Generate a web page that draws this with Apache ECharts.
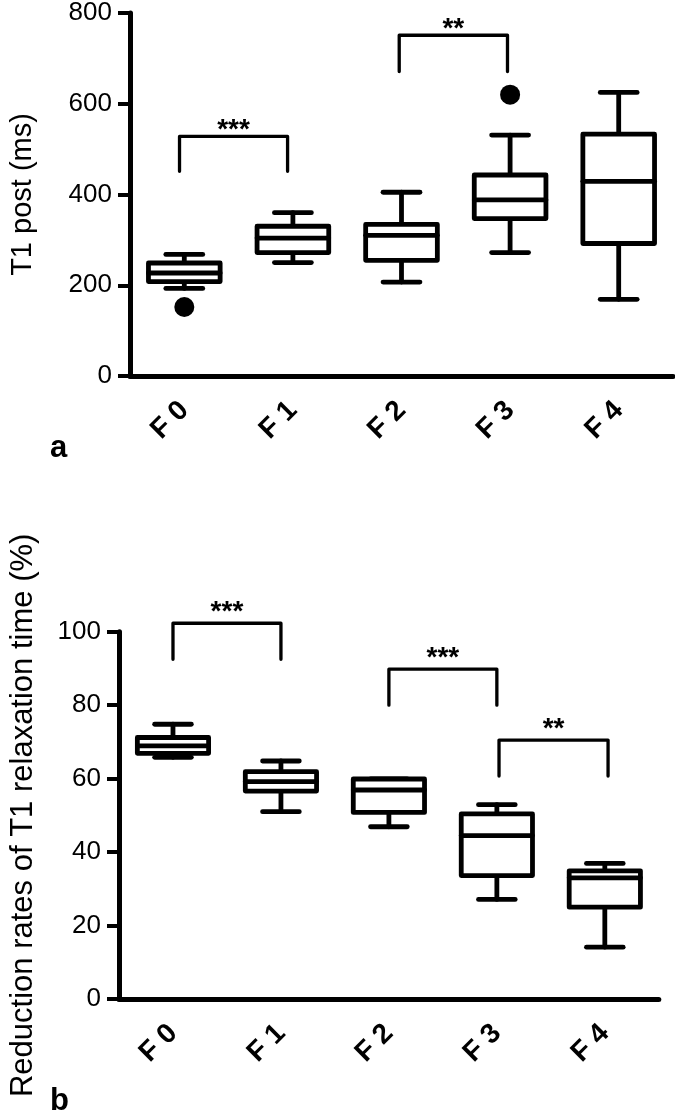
<!DOCTYPE html>
<html>
<head>
<meta charset="utf-8">
<script src="https://cdn.jsdelivr.net/npm/echarts@6/dist/echarts.min.js"></script>
<style>
html,body{margin:0;padding:0;background:#fff;}
#chart{width:675px;height:1111px;}
</style>
</head>
<body>
<div id="chart"></div>
<script>
// ---- data ----
const categories = ['F 0', 'F 1', 'F 2', 'F 3', 'F 4'];
// [min, Q1, median, Q3, max]
const t1PostBox = [
  [193, 208, 227, 249, 268],
  [250, 272, 304, 330, 360],
  [207, 255, 310, 334, 405],
  [272, 347, 388, 443, 531],
  [169, 292, 429, 533, 625]
];
const t1PostOutliers = [[0, 152], [3, 620]];
const reductionBox = [
  [65.8, 66.9, 68.9, 71.2, 74.8],
  [51.0, 56.6, 59.2, 61.9, 64.8],
  [46.9, 50.8, 56.9, 59.9, 59.9],
  [27.1, 33.6, 44.5, 50.4, 52.9],
  [14.1, 25.0, 33.0, 34.9, 36.9]
];
const reductionOutliers = [];
// [fromCategory, toCategory, bracketTop, legBottom, label]
const t1PostBrackets = [
  [-0.044, 0.951, 528, 451, '***'],
  [1.979, 2.976, 751, 671, '**']
];
const reductionBrackets = [
  [0, 1, 102.3, 92.5, '***'],
  [2, 3, 89.8, 80.0, '***'],
  [3.02, 4.03, 70.5, 60.7, '**']
];
const t1PostAxis = {min: 0, max: 800, interval: 200, name: 'T1 post (ms)'};
const reductionAxis = {min: 0, max: 100, interval: 20, name: 'Reduction rates of T1 relaxation time (%)'};

// ---- rendering ----
const FONT = "'Liberation Sans', Arial, Helvetica, sans-serif";
const chart = echarts.init(document.getElementById('chart'), null, {renderer: 'canvas'});

function boxData(box) { return box.map((b, i) => [i].concat(b)); }

function renderBox(params, api) {
  const i = api.value(0);
  const lo = api.coord([i, api.value(1)]);
  const q1 = api.coord([i, api.value(2)]);
  const md = api.coord([i, api.value(3)]);
  const q3 = api.coord([i, api.value(4)]);
  const hi = api.coord([i, api.value(5)]);
  const band = api.size([1, 0])[0];
  const bw = band * 0.66, cw = band * 0.34;
  const x = lo[0];
  const st = {stroke: '#000', lineWidth: 4.8, fill: 'none', lineCap: 'round'};
  return {
    type: 'group',
    children: [
      {type: 'line', shape: {x1: x, y1: q3[1], x2: x, y2: hi[1]}, style: st},
      {type: 'line', shape: {x1: x - cw / 2, y1: hi[1], x2: x + cw / 2, y2: hi[1]}, style: st},
      {type: 'line', shape: {x1: x, y1: q1[1], x2: x, y2: lo[1]}, style: st},
      {type: 'line', shape: {x1: x - cw / 2, y1: lo[1], x2: x + cw / 2, y2: lo[1]}, style: st},
      {type: 'rect', shape: {x: x - bw / 2, y: q3[1], width: bw, height: q1[1] - q3[1]},
        style: {stroke: '#000', lineWidth: 4.8, fill: '#fff', lineJoin: 'round'}},
      {type: 'line', shape: {x1: x - bw / 2, y1: md[1], x2: x + bw / 2, y2: md[1]}, style: st}
    ]
  };
}

function makeBracketRenderer(brackets, textLift) {
  return function (params, api) {
    const b = brackets[params.dataIndex];
    const p1 = api.coord([b[0], b[3]]);
    const p2 = api.coord([b[0], b[2]]);
    const p3 = api.coord([b[1], b[2]]);
    const p4 = api.coord([b[1], b[3]]);
    return {
      type: 'group',
      children: [
        {type: 'polyline', shape: {points: [p1, p2, p3, p4]},
          style: {stroke: '#000', lineWidth: 3.3, fill: 'none', lineJoin: 'round', lineCap: 'round'}},
        {type: 'text', x: (p2[0] + p3[0]) / 2, y: p2[1] - textLift,
          style: {text: b[4], fontSize: 28, fontWeight: 'bold', fontFamily: FONT, fill: '#000',
            align: 'center', verticalAlign: 'middle'}}
      ]
    };
  };
}

function catAxis(gridIndex) {
  return {
    type: 'category', gridIndex: gridIndex, data: categories, boundaryGap: true,
    axisLine: {onZero: false, lineStyle: {color: '#000', width: 5}},
    axisTick: {alignWithLabel: true, length: 13, lineStyle: {color: '#000', width: 4}},
    axisLabel: {rotate: 45, margin: 30, color: '#000', fontSize: 28, fontWeight: 'bold', fontFamily: FONT},
    splitLine: {show: false}
  };
}
function hiddenValueX(gridIndex) {
  return {type: 'value', gridIndex: gridIndex, min: -0.5, max: 4.5, show: false,
    axisLine: {onZero: false}, splitLine: {show: false}};
}
function valAxis(gridIndex, ax, nameGap, nameSize) {
  return {
    type: 'value', gridIndex: gridIndex, min: ax.min, max: ax.max, interval: ax.interval,
    name: ax.name, nameLocation: 'middle', nameGap: nameGap,
    nameTextStyle: {fontSize: nameSize, fontFamily: FONT, color: '#000'},
    axisLine: {show: true, onZero: false, lineStyle: {color: '#000', width: 5}},
    axisTick: {show: true, length: 12, lineStyle: {color: '#000', width: 4}},
    axisLabel: {margin: 18, color: '#000', fontSize: 26, fontFamily: FONT},
    splitLine: {show: false}
  };
}

const option = {
  backgroundColor: '#fff',
  animation: false,
  grid: [
    {left: 125, right: 2, top: 12, height: 364},
    {left: 111.7, right: 16.2, top: 631.7, height: 367.3}
  ],
  xAxis: [catAxis(0), catAxis(1), hiddenValueX(0), hiddenValueX(1)],
  yAxis: [valAxis(0, t1PostAxis, 93, 29), valAxis(1, reductionAxis, 80, 31)],
  graphic: [
    {type: 'text', x: 50, y: 464, style: {text: 'a', fontSize: 31, fontWeight: 'bold', fontFamily: FONT, fill: '#000', verticalAlign: 'bottom'}},
    {type: 'text', x: 50, y: 1117, style: {text: 'b', fontSize: 31, fontWeight: 'bold', fontFamily: FONT, fill: '#000', verticalAlign: 'bottom'}}
  ],
  series: [
    {type: 'custom', name: 'T1 post', xAxisIndex: 0, yAxisIndex: 0, data: boxData(t1PostBox),
      encode: {x: 0, y: [1, 2, 3, 4, 5]}, renderItem: renderBox, z: 3},
    {type: 'scatter', xAxisIndex: 0, yAxisIndex: 0, data: t1PostOutliers, symbol: 'circle', symbolSize: 20,
      itemStyle: {color: '#000', opacity: 1}, z: 4},
    {type: 'custom', xAxisIndex: 2, yAxisIndex: 0, data: t1PostBrackets.map(b => [b[0], b[2]]),
      renderItem: makeBracketRenderer(t1PostBrackets, 6), clip: false, z: 5},
    {type: 'custom', name: 'Reduction', xAxisIndex: 1, yAxisIndex: 1, data: boxData(reductionBox),
      encode: {x: 0, y: [1, 2, 3, 4, 5]}, renderItem: renderBox, z: 3},
    {type: 'scatter', xAxisIndex: 1, yAxisIndex: 1, data: reductionOutliers, symbol: 'circle', symbolSize: 20,
      itemStyle: {color: '#000', opacity: 1}, z: 4},
    {type: 'custom', xAxisIndex: 3, yAxisIndex: 1, data: reductionBrackets.map(b => [b[0], b[2]]),
      renderItem: makeBracketRenderer(reductionBrackets, 11), clip: false, z: 5}
  ]
};
chart.setOption(option);
</script>
</body>
</html>
